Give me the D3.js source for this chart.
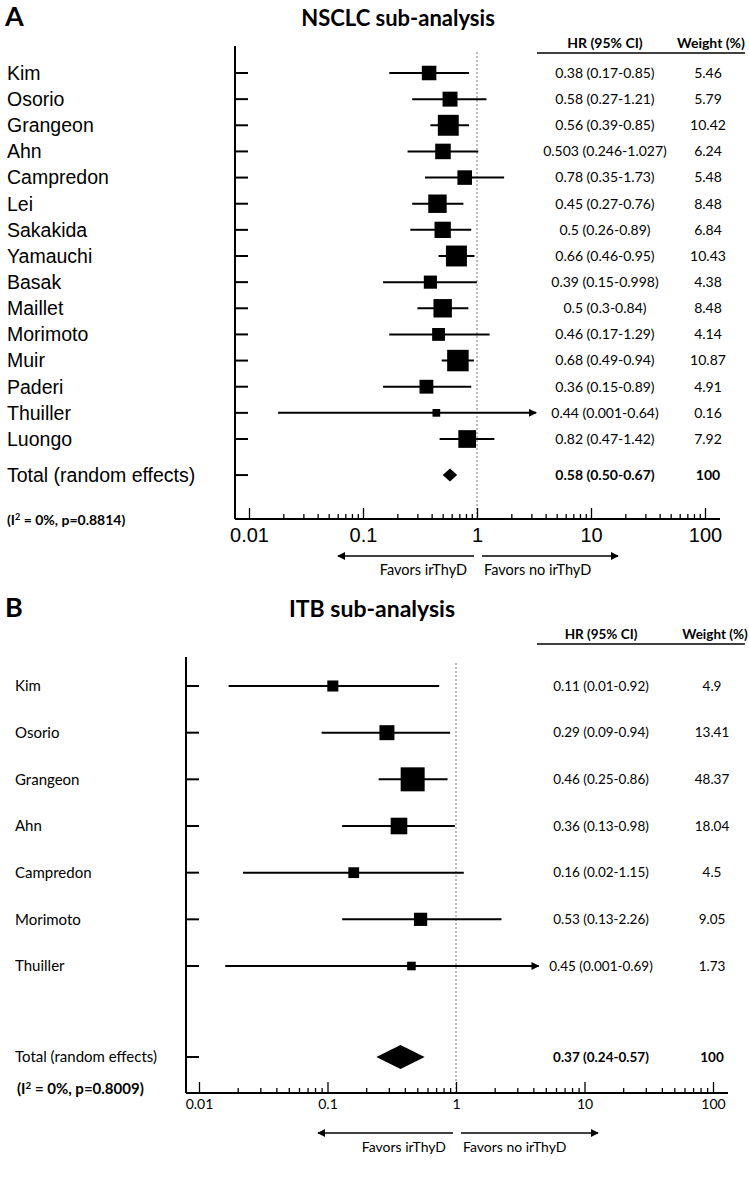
<!DOCTYPE html>
<html>
<head>
<meta charset="utf-8">
<script src="https://cdn.jsdelivr.net/npm/d3@7"></script>
<style>
  body { margin: 0; background: #fff; }
  svg { display: block; }
</style>
</head>
<body>
<script>
// ---- Panel A: NSCLC sub-analysis ----
const nsclcStudies = ['Kim', 'Osorio', 'Grangeon', 'Ahn', 'Campredon', 'Lei', 'Sakakida', 'Yamauchi',
  'Basak', 'Maillet', 'Morimoto', 'Muir', 'Paderi', 'Thuiller', 'Luongo'];
const nsclcHR = [0.38, 0.58, 0.56, 0.503, 0.78, 0.45, 0.5, 0.66, 0.39, 0.5, 0.46, 0.68, 0.36, 0.44, 0.82];
// CI bar ends as drawn in the figure
const nsclcLo = [0.17, 0.27, 0.39, 0.246, 0.35, 0.27, 0.26, 0.46, 0.15, 0.3, 0.17, 0.49, 0.15, 0.018, 0.47];
const nsclcHi = [0.85, 1.21, 0.85, 1.027, 1.73, 0.76, 0.89, 0.95, 0.998, 0.84, 1.29, 0.94, 0.89, 3.3, 1.42];
const nsclcArrow = [0, 0, 0, 0, 0, 0, 0, 0, 0, 0, 0, 0, 0, 1, 0];
const nsclcCI = ['0.38 (0.17-0.85)', '0.58 (0.27-1.21)', '0.56 (0.39-0.85)', '0.503 (0.246-1.027)',
  '0.78 (0.35-1.73)', '0.45 (0.27-0.76)', '0.5 (0.26-0.89)', '0.66 (0.46-0.95)', '0.39 (0.15-0.998)',
  '0.5 (0.3-0.84)', '0.46 (0.17-1.29)', '0.68 (0.49-0.94)', '0.36 (0.15-0.89)', '0.44 (0.001-0.64)',
  '0.82 (0.47-1.42)'];
const nsclcWeight = ['5.46', '5.79', '10.42', '6.24', '5.48', '8.48', '6.84', '10.43', '4.38', '8.48',
  '4.14', '10.87', '4.91', '0.16', '7.92'];
const nsclcTotal = {hr: 0.58, lo: 0.50, hi: 0.67, text: '0.58 (0.50-0.67)', weight: '100'};
const nsclcHet = 'p=0.8814';

// ---- Panel B: ITB sub-analysis ----
const itbStudies = ['Kim', 'Osorio', 'Grangeon', 'Ahn', 'Campredon', 'Morimoto', 'Thuiller'];
const itbHR = [0.11, 0.29, 0.46, 0.36, 0.16, 0.53, 0.45];
const itbLo = [0.017, 0.09, 0.25, 0.13, 0.022, 0.13, 0.016];
const itbHi = [0.74, 0.9, 0.86, 0.98, 1.15, 2.26, 4.4];
const itbArrow = [0, 0, 0, 0, 0, 0, 1];
const itbCI = ['0.11 (0.01-0.92)', '0.29 (0.09-0.94)', '0.46 (0.25-0.86)', '0.36 (0.13-0.98)',
  '0.16 (0.02-1.15)', '0.53 (0.13-2.26)', '0.45 (0.001-0.69)'];
const itbWeight = ['4.9', '13.41', '48.37', '18.04', '4.5', '9.05', '1.73'];
const itbTotal = {hr: 0.37, lo: 0.24, hi: 0.57, text: '0.37 (0.24-0.57)', weight: '100'};
const itbHet = 'p=0.8009';

const tickVals = [0.01, 0.1, 1, 10, 100];
const tickLabels = ['0.01', '0.1', '1', '10', '100'];

const svg = d3.select('body').append('svg')
  .attr('width', 749)
  .attr('height', 1177);

svg.append('defs').append('marker')
  .attr('id', 'arr')
  .attr('viewBox', '0 0 10 10')
  .attr('refX', 9).attr('refY', 5)
  .attr('markerWidth', 8).attr('markerHeight', 8)
  .attr('markerUnits', 'userSpaceOnUse')
  .attr('orient', 'auto-start-reverse')
  .append('path').attr('d', 'M0,0 L10,5 L0,10 Z').attr('fill', '#000');

const calibri = 'Lato, "Open Sans", sans-serif';

function drawPanel(p) {
  const g = svg.append('g');
  const n = p.studies.length;
  const x = d3.scaleLog().domain([0.01, 100]).range(p.xRange);
  const y = d3.scaleLinear().domain([0, n - 1]).range(p.yRange);
  const step = (p.yRange[1] - p.yRange[0]) / (n - 1);
  const yTotal = y(n - 1) + step * p.totalGap;
  const size = p.sizeScale;

  // panel letter + title
  g.append('text').attr('x', 5).attr('y', p.titleY)
    .attr('font-family', calibri).attr('font-weight', 700).attr('font-size', 27)
    .text(p.letter);
  g.append('text').attr('x', p.titleX).attr('y', p.titleY)
    .attr('text-anchor', 'middle')
    .attr('font-family', calibri).attr('font-weight', 700).attr('font-size', p.titleSize)
    .text(p.title);

  // table header
  g.append('text').attr('x', p.hrX).attr('y', p.headY).attr('text-anchor', 'middle')
    .attr('font-family', calibri).attr('font-weight', 700).attr('font-size', p.headSize).text('HR (95% CI)');
  g.append('text').attr('x', p.wX + 3).attr('y', p.headY).attr('text-anchor', 'middle')
    .attr('font-family', calibri).attr('font-weight', 700).attr('font-size', p.headSize).text('Weight (%)');
  g.append('line').attr('x1', 537).attr('x2', 745)
    .attr('y1', p.headY + 5).attr('y2', p.headY + 5)
    .attr('stroke', '#000').attr('stroke-width', 1.5);

  // y axis + row stubs
  g.append('line').attr('x1', p.yAxisX).attr('x2', p.yAxisX)
    .attr('y1', p.yTop).attr('y2', p.axisY)
    .attr('stroke', '#000').attr('stroke-width', 2);
  const stubs = d3.range(n).map(y).concat([yTotal]);
  g.selectAll('.stub').data(stubs).join('line')
    .attr('x1', p.yAxisX).attr('x2', p.yAxisX + 13)
    .attr('y1', d => d).attr('y2', d => d)
    .attr('stroke', '#000').attr('stroke-width', 2);

  // null line
  g.append('line').attr('x1', x(1)).attr('x2', x(1))
    .attr('y1', p.yTop + 6).attr('y2', p.axisY)
    .attr('stroke', '#777').attr('stroke-width', 1).attr('stroke-dasharray', '2,2');

  // x axis
  g.append('line').attr('x1', p.yAxisX).attr('x2', p.axisEnd)
    .attr('y1', p.axisY).attr('y2', p.axisY)
    .attr('stroke', '#000').attr('stroke-width', 2);
  const minor = x.ticks().filter(t => !tickVals.some(v => Math.abs(v - t) / v < 1e-6));
  const ax = g.append('g').attr('transform', `translate(0,${p.axisY})`);
  ax.call(d3.axisBottom(x).tickValues(tickVals).tickSizeInner(-11).tickSizeOuter(0)
    .tickPadding(p.tickPad).tickFormat((d, i) => tickLabels[i]));
  ax.append('g').call(d3.axisBottom(x).tickValues(minor).tickSizeInner(-5).tickSizeOuter(0).tickFormat(''));
  ax.selectAll('.domain').remove();
  ax.selectAll('.tick line').attr('stroke', '#000').attr('stroke-width', 1.3);
  ax.selectAll('.tick text').attr('font-family', p.tickFont).attr('font-size', p.tickSize).attr('fill', '#000');

  // CI lines
  const rows = d3.range(n);
  g.selectAll('.ci').data(rows).join('line')
    .attr('x1', i => x(p.lo[i])).attr('x2', i => x(p.hi[i]))
    .attr('y1', i => y(i)).attr('y2', i => y(i))
    .attr('stroke', '#000').attr('stroke-width', 2)
    .attr('marker-end', i => p.arrow[i] ? 'url(#arr)' : null);

  // squares
  g.selectAll('.sq').data(rows).join('rect')
    .attr('x', i => x(p.hr[i]) - size(+p.weight[i]) / 2)
    .attr('y', i => y(i) - size(+p.weight[i]) / 2)
    .attr('width', i => size(+p.weight[i]))
    .attr('height', i => size(+p.weight[i]))
    .attr('fill', '#000');

  // total diamond
  const t = p.total;
  g.append('path')
    .attr('d', `M${x(t.lo)},${yTotal} L${x(t.hr)},${yTotal - p.diamondH / 2} L${x(t.hi)},${yTotal} L${x(t.hr)},${yTotal + p.diamondH / 2} Z`)
    .attr('fill', '#000');

  // study labels
  g.selectAll('.lab').data(p.studies.concat(['Total (random effects)'])).join('text')
    .attr('x', p.labelX)
    .attr('y', (d, i) => i < n ? y(i) : yTotal)
    .attr('dy', '0.35em')
    .attr('font-family', p.labelFont).attr('font-size', p.labelSize)
    .text(d => d);

  // table values
  const tab = g.append('g').attr('font-family', calibri).attr('font-size', p.tabSize).attr('text-anchor', 'middle');
  tab.selectAll('.hr').data(p.ci).join('text')
    .attr('x', p.hrX).attr('y', (d, i) => y(i)).attr('dy', '0.35em').text(d => d);
  tab.selectAll('.w').data(p.weight).join('text')
    .attr('x', p.wX).attr('y', (d, i) => y(i)).attr('dy', '0.35em').text(d => d);
  tab.append('text').attr('x', p.hrX).attr('y', yTotal).attr('dy', '0.35em')
    .attr('font-weight', 700).text(t.text);
  tab.append('text').attr('x', p.wX).attr('y', yTotal).attr('dy', '0.35em')
    .attr('font-weight', 700).text(t.weight);

  // heterogeneity
  const het = g.append('text').attr('x', p.hetX).attr('y', p.hetY)
    .attr('font-family', calibri).attr('font-weight', 700).attr('font-size', p.hetSize);
  het.append('tspan').text('(I');
  het.append('tspan').attr('dy', -5).attr('font-size', p.hetSize * 0.65).text('2');
  het.append('tspan').attr('dy', 5).text(' = 0%, ' + p.het + ')');

  // favours arrows
  g.append('line').attr('x1', x(1) - 3).attr('x2', p.favLeft)
    .attr('y1', p.favY).attr('y2', p.favY)
    .attr('stroke', '#000').attr('stroke-width', 1.5).attr('marker-end', 'url(#arr)');
  g.append('line').attr('x1', x(1) + 5).attr('x2', p.favRight)
    .attr('y1', p.favY).attr('y2', p.favY)
    .attr('stroke', '#000').attr('stroke-width', 1.5).attr('marker-end', 'url(#arr)');
  g.append('text').attr('x', x(1) - 10).attr('y', p.favY + 19).attr('text-anchor', 'end')
    .attr('font-family', calibri).attr('font-size', p.favSize).text('Favors irThyD');
  g.append('text').attr('x', x(1) + 7).attr('y', p.favY + 19)
    .attr('font-family', calibri).attr('font-size', p.favSize).text('Favors no irThyD');
}

drawPanel({
  letter: 'A', title: 'NSCLC sub-analysis', titleX: 398, titleY: 26, titleSize: 22,
  studies: nsclcStudies, hr: nsclcHR, lo: nsclcLo, hi: nsclcHi, arrow: nsclcArrow,
  ci: nsclcCI, weight: nsclcWeight, total: nsclcTotal, het: nsclcHet,
  xRange: [249, 705], yRange: [73, 439], totalGap: 1.38,
  yAxisX: 235, yTop: 46, axisY: 519, axisEnd: 720, tickPad: 9,
  tickFont: '"Liberation Sans", Arial, sans-serif', tickSize: 20,
  labelX: 7, labelFont: '"Liberation Sans", Arial, sans-serif', labelSize: 19.5,
  sizeScale: d3.scaleLinear().domain([0, 10.87]).range([7.5, 21.5]),
  diamondH: 13,
  hrX: 605, wX: 708, headY: 48, headSize: 14, tabSize: 14,
  hetX: 7, hetY: 525, hetSize: 14,
  favY: 556, favLeft: 338, favRight: 618, favSize: 14.5
});

drawPanel({
  letter: 'B', title: 'ITB sub-analysis', titleX: 372, titleY: 617, titleSize: 23,
  studies: itbStudies, hr: itbHR, lo: itbLo, hi: itbHi, arrow: itbArrow,
  ci: itbCI, weight: itbWeight, total: itbTotal, het: itbHet,
  xRange: [199, 713], yRange: [686, 966], totalGap: 1.95,
  yAxisX: 186, yTop: 657, axisY: 1093, axisEnd: 728, tickPad: 6,
  tickFont: calibri, tickSize: 14,
  labelX: 15, labelFont: calibri, labelSize: 15,
  sizeScale: d3.scaleSqrt().domain([0, 48.37]).range([5, 24]),
  diamondH: 24,
  hrX: 601, wX: 712, headY: 639, headSize: 13.5, tabSize: 13.5,
  hetX: 17, hetY: 1094, hetSize: 15,
  favY: 1133, favLeft: 318, favRight: 598, favSize: 14
});
</script>
</body>
</html>
